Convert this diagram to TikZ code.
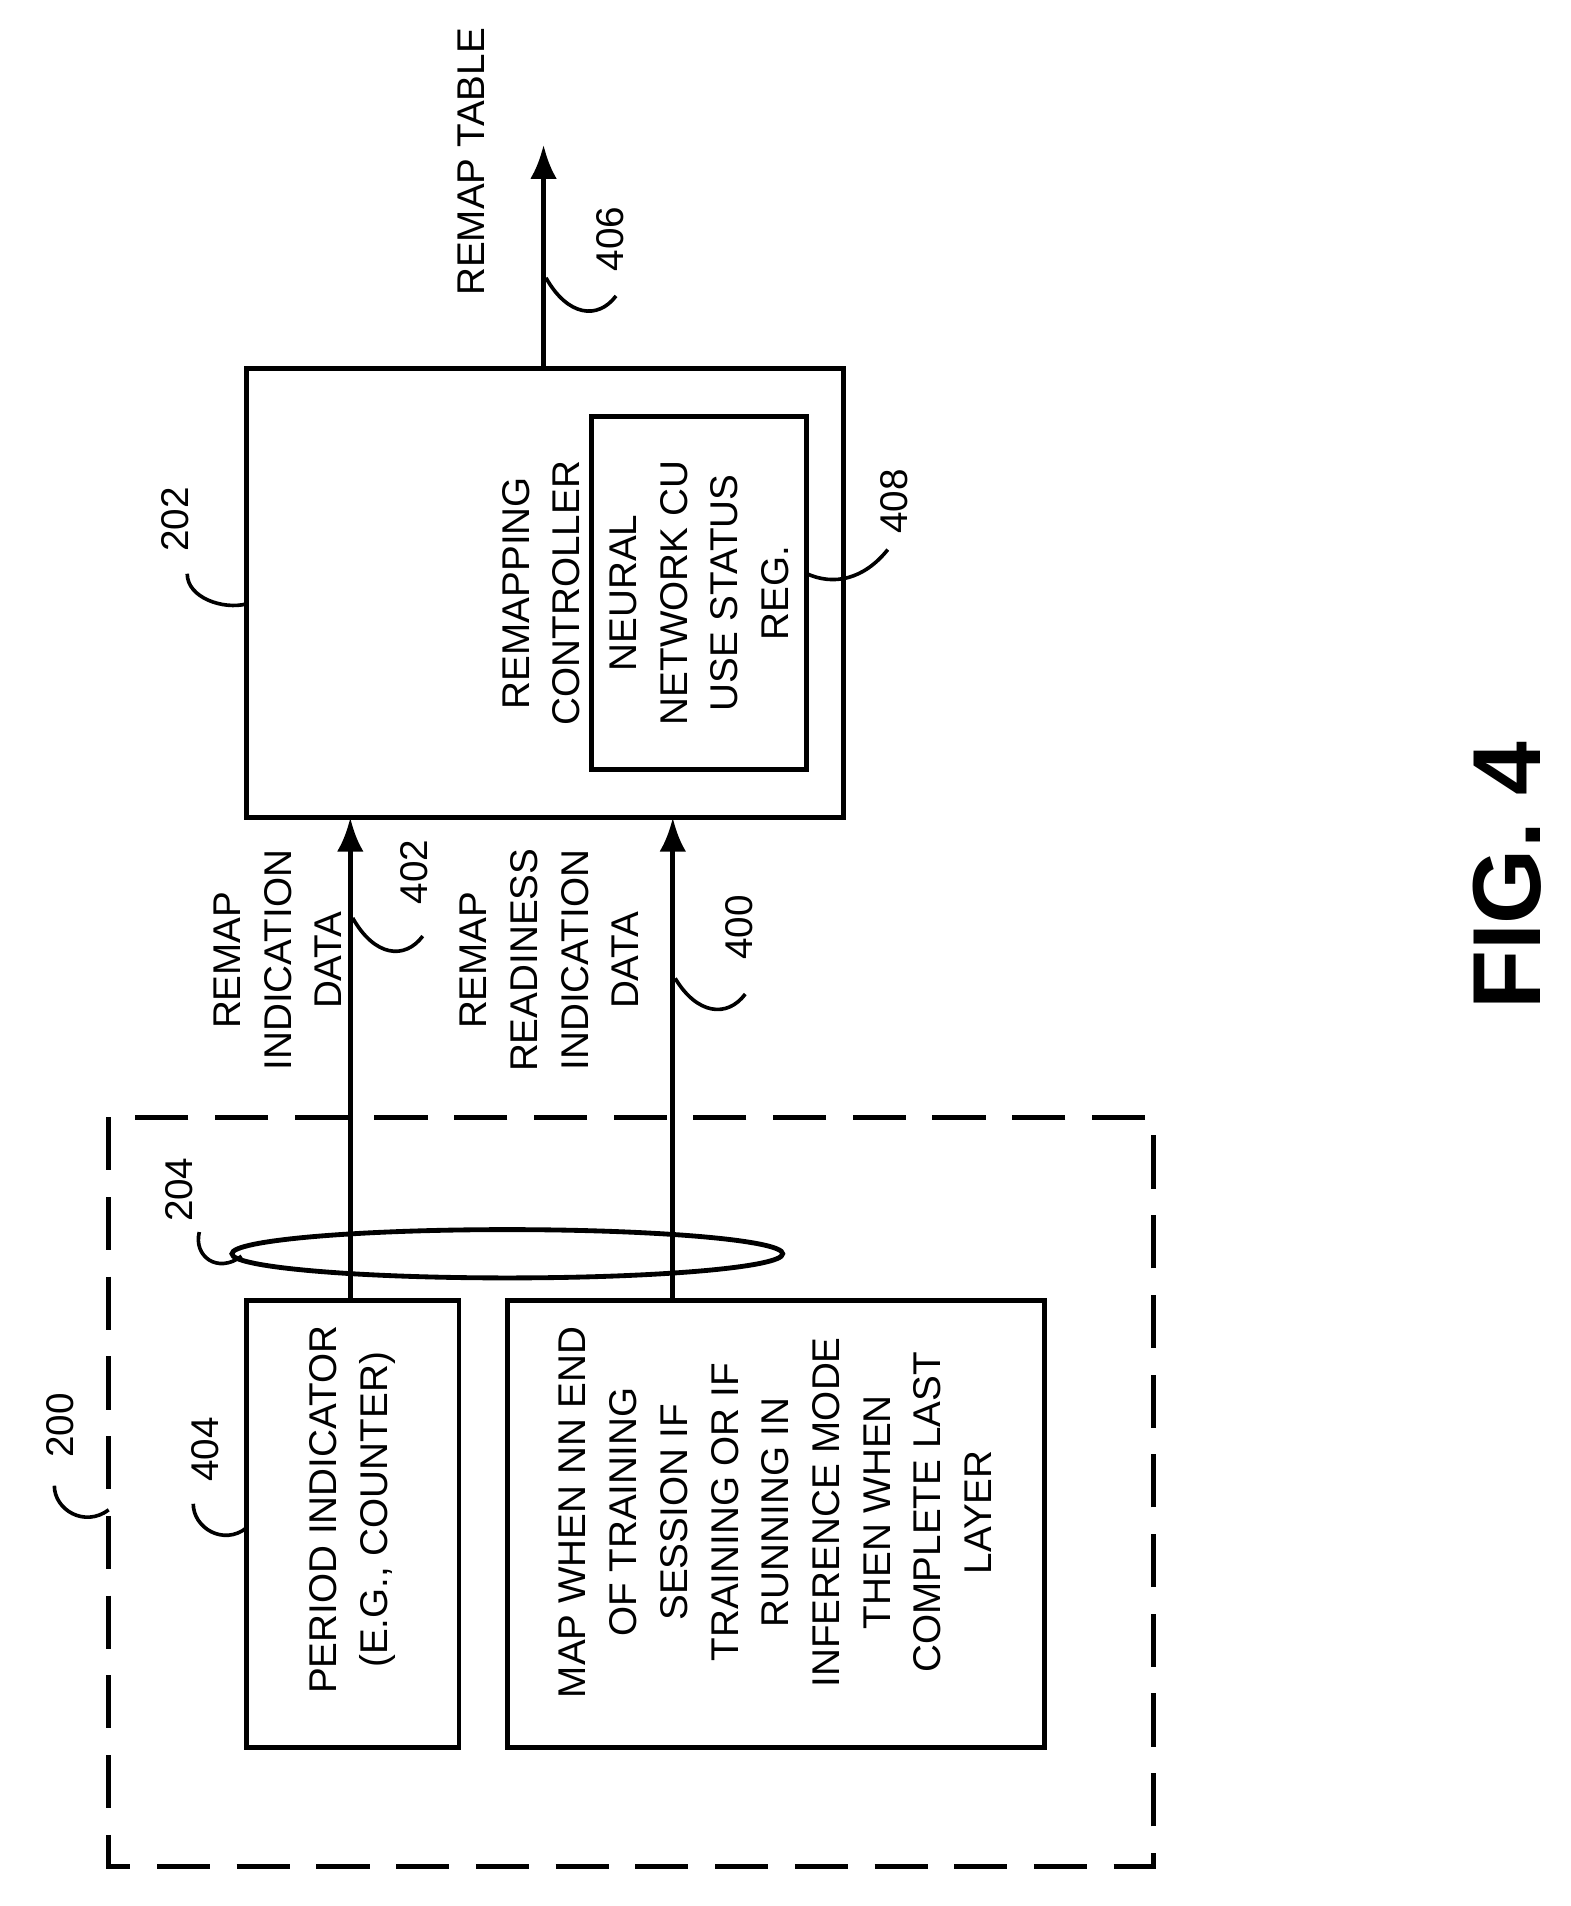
\documentclass[tikz,border=0pt]{standalone}
\usepackage{fontspec}
\setmainfont{Liberation Sans}
\usetikzlibrary{arrows.meta}
\begin{document}
\begin{tikzpicture}[x=0.5pt,y=-0.5pt,
  box/.style={draw,line width=2pt},
  lbl/.style={font=\fontsize{16}{21}\selectfont,rotate=90,align=center},
  lead/.style={line width=1.5pt},
  arr/.style={line width=2pt,-{Latex[length=14pt,width=11pt]}}]
\useasboundingbox (0,0) rectangle (1300,1578);
\draw[box] (204,305) rectangle (698,677);
\draw[box] (490,345) rectangle (668,637);
\node[lbl] (ctl) at (448,491) {REMAPPING\\CONTROLLER};
\node[lbl] (reg) at (579,491) {NEURAL\\NETWORK CU\\USE STATUS\\REG.};
\coordinate (top) at (450,305);
\coordinate (tip) at (450,120);
\draw[arr] (top) -- (tip);
\node[lbl,anchor=west] (rt) at (390,252) {REMAP TABLE};
\node[lbl] (n406) at (505,198) {406};
\draw[lead] (452,230) .. controls (470,262) and (495,265) .. (510,245);
\draw[box,dash pattern=on 22pt off 11pt] (90,925) rectangle (955,1545);
\draw[line width=2pt] (420,1038) ellipse (228 and 20);
\draw[box] (204,1077) rectangle (380,1447);
\draw[box] (420,1077) rectangle (865,1447);
\node[lbl] (pi) at (292,1250) {PERIOD INDICATOR\\(E.G., COUNTER)};
\node[lbl] (map) at (642,1252) {MAP WHEN NN END\\OF TRAINING\\SESSION IF\\TRAINING OR IF\\RUNNING IN\\INFERENCE MODE\\THEN WHEN\\COMPLETE LAST\\LAYER};
\draw[arr] (290,1077) -- (290,677);
\draw[arr] (557,1077) -- (557,677);
\node[lbl] at (230,795) {REMAP\\INDICATION\\DATA};
\node[lbl] at (455,795) {REMAP\\READINESS\\INDICATION\\DATA};
\node[lbl] at (343,722) {402};
\draw[lead] (292,760) .. controls (310,792) and (335,795) .. (350,775);
\node[lbl] at (612,768) {400};
\draw[lead] (559,810) .. controls (577,840) and (602,843) .. (617,823);
\node[lbl] at (740,415) {408};
\draw[lead] (668,475) .. controls (690,485) and (715,480) .. (735,455);
\node[lbl] at (145,430) {202};
\draw[lead] (204,500) .. controls (185,505) and (155,495) .. (155,475);
\node[lbl] at (148,985) {204};
\draw[lead] (200,1040) .. controls (180,1055) and (160,1040) .. (165,1020);
\node[lbl] at (170,1200) {404};
\draw[lead] (204,1265) .. controls (185,1280) and (160,1265) .. (160,1245);
\node[lbl] at (50,1180) {200};
\draw[lead] (90,1250) .. controls (70,1265) and (45,1250) .. (45,1230);
\node[rotate=90,font=\fontsize{40}{40}\selectfont\bfseries] at (1248,725) {FIG. 4};
\end{tikzpicture}
\end{document}
